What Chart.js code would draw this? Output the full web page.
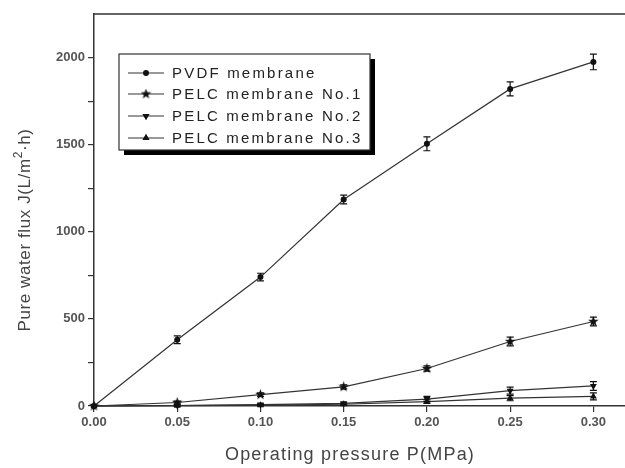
<!DOCTYPE html>
<html>
<head>
<meta charset="utf-8">
<script src="https://cdn.jsdelivr.net/npm/chart.js@4.4.0/dist/chart.umd.min.js"></script>
<style>
  html, body { margin: 0; padding: 0; background: #fff; overflow: hidden; }
  #wrap { width: 625px; height: 468px; }
</style>
</head>
<body>
<div id="wrap"><canvas id="fluxChart" width="625" height="468"></canvas></div>
<script>
// data
const pressure = [0, 0.05, 0.10, 0.15, 0.20, 0.25, 0.30];
const pvdf = [0, 380, 740, 1185, 1505, 1820, 1975];
const pvdfErr = [0, 22, 22, 25, 40, 40, 45];
const pelc1 = [0, 20, 65, 110, 215, 370, 485];
const pelc1Err = [0, 8, 10, 12, 15, 25, 25];
const pelc2 = [0, 3, 8, 15, 40, 88, 115];
const pelc2Err = [0, 4, 5, 8, 15, 20, 25];
const pelc3 = [0, 2, 5, 10, 25, 45, 55];
const pelc3Err = [0, 3, 4, 6, 10, 15, 20];
const seriesNames = ["PVDF membrane", "PELC membrane No.1", "PELC membrane No.2", "PELC membrane No.3"];
const xTicks = [0, 0.05, 0.10, 0.15, 0.20, 0.25, 0.30];
const yTicks = [0, 250, 500, 750, 1000, 1250, 1500, 1750, 2000];
const xTitle = "Operating pressure P(MPa)";
const yTitle = ["Pure water flux J(L/m", "2", "·h)"];

const ink = "#111";
const lineCol = "#333";
const fontFam = "'Liberation Sans', Arial, sans-serif";

// filled five point star for No.1
function makeStar(size) {
  const c = document.createElement("canvas");
  c.width = size; c.height = size;
  const g = c.getContext("2d");
  const cx = size / 2, cy = size / 2, R = size / 2, r = R * 0.42;
  g.beginPath();
  for (let i = 0; i < 10; i++) {
    const a = -Math.PI / 2 + i * Math.PI / 5;
    const rr = i % 2 === 0 ? R : r;
    g.lineTo(cx + rr * Math.cos(a), cy + rr * Math.sin(a));
  }
  g.closePath();
  g.fillStyle = ink;
  g.fill();
  return c;
}
const star = makeStar(11);

function toPoints(vals) {
  return vals.map((v, i) => ({ x: pressure[i], y: v }));
}

const markers = [
  { style: "circle", radius: 3, rotation: 0 },
  { style: star, radius: 5, rotation: 0 },
  { style: "triangle", radius: 4, rotation: 180 },
  { style: "triangle", radius: 4, rotation: 0 }
];
const allVals = [pvdf, pelc1, pelc2, pelc3];
const allErr = [pvdfErr, pelc1Err, pelc2Err, pelc3Err];

const datasets = allVals.map((vals, k) => ({
  label: seriesNames[k],
  data: toPoints(vals),
  errors: allErr[k],
  borderColor: lineCol,
  borderWidth: 1.2,
  backgroundColor: ink,
  pointBackgroundColor: ink,
  pointBorderColor: ink,
  pointBorderWidth: 0,
  pointStyle: markers[k].style,
  pointRadius: markers[k].radius,
  pointRotation: markers[k].rotation,
  tension: 0,
  fill: false
}));

// error bars with small caps
const errorBars = {
  id: "errorBars",
  afterDatasetsDraw(chart) {
    const ctx = chart.ctx;
    const ys = chart.scales.y, xs = chart.scales.x;
    ctx.save();
    ctx.strokeStyle = ink;
    ctx.lineWidth = 1.2;
    chart.data.datasets.forEach(ds => {
      ds.data.forEach((p, i) => {
        const e = ds.errors[i];
        if (!e) return;
        const px = xs.getPixelForValue(p.x);
        const top = ys.getPixelForValue(p.y + e);
        const bot = ys.getPixelForValue(Math.max(0, p.y - e));
        ctx.beginPath();
        ctx.moveTo(px, top); ctx.lineTo(px, bot);
        ctx.moveTo(px - 3.5, top); ctx.lineTo(px + 3.5, top);
        ctx.moveTo(px - 3.5, bot); ctx.lineTo(px + 3.5, bot);
        ctx.stroke();
      });
    });
    ctx.restore();
  }
};

// top frame line, axis titles and boxed legend with shadow
const frameAndLegend = {
  id: "frameAndLegend",
  afterDraw(chart) {
    const ctx = chart.ctx;
    const a = chart.chartArea;
    ctx.save();
    ctx.strokeStyle = lineCol;
    ctx.lineWidth = 1.5;
    ctx.beginPath();
    ctx.moveTo(a.left, a.top);
    ctx.lineTo(a.right, a.top);
    ctx.stroke();

    // x title
    ctx.fillStyle = "#444";
    ctx.font = "18px " + fontFam;
    ctx.letterSpacing = "1.2px";
    ctx.textAlign = "center";
    ctx.textBaseline = "middle";
    ctx.fillText(xTitle, 350, 455);

    // y title, rotated, with superscript 2
    ctx.save();
    ctx.translate(25, 230);
    ctx.rotate(-Math.PI / 2);
    ctx.textAlign = "left";
    ctx.letterSpacing = "0.6px";
    const big = "17px " + fontFam, small = "12px " + fontFam;
    ctx.font = big;
    const w1 = ctx.measureText(yTitle[0]).width;
    const w3 = ctx.measureText(yTitle[2]).width;
    ctx.font = small;
    const w2 = ctx.measureText(yTitle[1]).width;
    let x0 = -(w1 + w2 + w3) / 2;
    ctx.font = big;
    ctx.fillText(yTitle[0], x0, 0);
    ctx.font = small;
    ctx.fillText(yTitle[1], x0 + w1, -6);
    ctx.font = big;
    ctx.fillText(yTitle[2], x0 + w1 + w2, 0);
    ctx.restore();

    const bx = 119, by = 54, bw = 251, bh = 96;
    ctx.fillStyle = "#000";
    ctx.fillRect(bx + 5, by + 5, bw, bh);
    ctx.fillStyle = "#fff";
    ctx.fillRect(bx, by, bw, bh);
    ctx.strokeStyle = "#333";
    ctx.lineWidth = 1.2;
    ctx.strokeRect(bx, by, bw, bh);

    const rows = [73, 94, 116, 138];
    ctx.font = "15px " + fontFam;
    ctx.letterSpacing = "2.2px";
    ctx.textAlign = "left";
    ctx.textBaseline = "middle";
    chart.data.datasets.forEach((ds, k) => {
      const y = rows[k];
      ctx.strokeStyle = lineCol;
      ctx.lineWidth = 1.2;
      ctx.beginPath();
      ctx.moveTo(128, y); ctx.lineTo(164, y);
      ctx.stroke();
      Chart.helpers.drawPoint(ctx, {
        pointStyle: ds.pointStyle,
        radius: ds.pointRadius,
        rotation: ds.pointRotation,
        borderWidth: 0
      }, 146, y);
      ctx.fillStyle = ink;
      ctx.fill();
      ctx.fillStyle = "#222";
      ctx.fillText(ds.label, 172, y + 1);
    });
    ctx.restore();
  }
};

new Chart("fluxChart", {
  type: "line",
  data: { datasets: datasets },
  plugins: [errorBars, frameAndLegend],
  options: {
    responsive: false,
    animation: false,
    clip: false,
    layout: { autoPadding: false, padding: { top: 14, right: 0, left: 0, bottom: 0 } },
    plugins: {
      legend: { display: false },
      tooltip: { enabled: false }
    },
    scales: {
      x: {
        type: "linear",
        min: 0,
        max: 0.319,
        afterFit(s) { s.height = 62; s.paddingRight = 0; s.paddingLeft = 0; },
        afterBuildTicks(s) { s.ticks = xTicks.map(v => ({ value: v })); },
        ticks: {
          color: "#555",
          font: { family: fontFam, size: 13, weight: "bold" },
          padding: 3,
          callback: v => v.toFixed(2)
        },
        grid: { drawOnChartArea: false, tickLength: 6, color: lineCol, lineWidth: 1.2 },
        border: { color: lineCol, width: 1.5 }
      },
      y: {
        min: 0,
        max: 2250,
        afterFit(s) { s.width = 94; },
        afterBuildTicks(s) { s.ticks = yTicks.map(v => ({ value: v })); },
        ticks: {
          color: "#555",
          font: { family: fontFam, size: 13, weight: "bold" },
          padding: 3,
          callback: v => (v % 500 === 0) ? String(v) : ""
        },
        grid: { drawOnChartArea: false, tickLength: 6, color: lineCol, lineWidth: 1.2 },
        border: { color: lineCol, width: 1.5 }
      }
    }
  }
});
</script>
</body>
</html>
